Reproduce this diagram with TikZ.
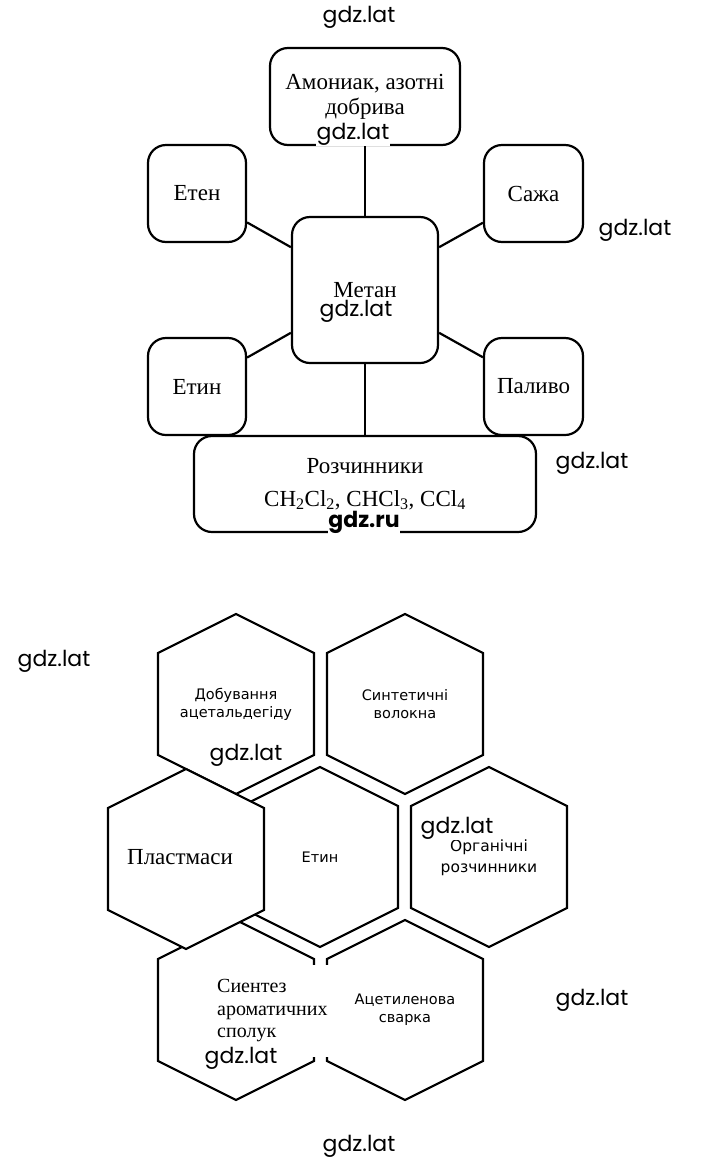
\documentclass[tikz,border=0pt]{standalone}
\usepackage{fontspec}
\setmainfont{Liberation Serif}
\newfontfamily\hexfont{DejaVu Sans}
\newfontfamily\wmfont{Poppins}
\usepackage{tikz}

\begin{document}
\begin{tikzpicture}[x=1pt, y=-1pt,
	topbox/.style={draw, line width=2.2pt, rounded corners=18pt, align=center, inner sep=0pt, font=\fontsize{23}{25}\selectfont},
	link/.style={line width=2.2pt},
	hexlabel/.style={align=center, font=\hexfont\fontsize{14.5}{18}\selectfont},
	wmark/.style={fill=white, inner sep=0.5pt, font=\wmfont\fontsize{22}{24}\selectfont},
	hexcell/.pic={\filldraw[fill=white, line width=2.2pt] (0,-90) -- (78,-51) -- (78,51) -- (0,90) -- (-78,51) -- (-78,-51) -- cycle;}]
				\useasboundingbox (0,0) rectangle (720,1160);
				% methane scheme
				\node[topbox, minimum width=190pt, minimum height=97pt] (amon) at (365,96.5) {Амониак, азотні\\добрива};
				\node[topbox, minimum width=98pt, minimum height=97pt] (eten) at (197,193.5) {Етен};
				\node[topbox, minimum width=99pt, minimum height=97pt] (saza) at (533.5,193.5) {Сажа};
				\node[topbox, minimum width=146pt, minimum height=146pt] (metan) at (365,290) {Метан};
				\node[topbox, minimum width=98pt, minimum height=97pt] (etyn) at (197,386.5) {Етин};
				\node[topbox, minimum width=99pt, minimum height=97pt] (palyvo) at (533.5,386.5) {Паливо};
				\node[topbox, minimum width=342pt, minimum height=96pt] (rozch) at (365,484) {Розчинники\\[8pt]CH\textsubscript{2}Cl\textsubscript{2}, CHCl\textsubscript{3}, CCl\textsubscript{4}};
				\draw[link] (amon.south) -- (metan.north);
				\draw[link] (eten.-30) -- (metan.150);
				\draw[link] (saza.210) -- (metan.30);
				\draw[link] (etyn.30) -- (metan.210);
				\draw[link] (palyvo.150) -- (metan.-30);
				\draw[link] (metan.south) -- (rozch.north);
				% ethyne honeycomb
				\pic at (236,704) {hexcell};
				\pic at (405,704) {hexcell};
				\pic at (320,857) {hexcell};
				\pic at (489,857) {hexcell};
				\pic at (236,1010) {hexcell};
				\pic at (405,1010) {hexcell};
				\pic at (186,859) {hexcell};
				\node[hexlabel] (dobuv) at (236,704) {Добування\\ацетальдегіду};
				\node[hexlabel] (synt) at (405,704) {Синтетичні\\волокна};
				\node[hexlabel] (etin) at (320,857) {Етин};
				\node[hexlabel, font=\hexfont\fontsize{15.5}{21}\selectfont] (orhan) at (489,858) {Органічні\\розчинники};
				\node[hexlabel] (acet) at (405,1010) {Ацетиленова\\сварка};
				\node[font=\fontsize{23}{25}\selectfont] (plast) at (180,857) {Пластмаси};
				\node[fill=white, align=left, anchor=west, text width=108pt, minimum height=92pt, inner xsep=7pt, inner ysep=0pt, font=\fontsize{20}{22.5}\selectfont] (sint) at (210,1011) {Сиентез\\ароматичних\\сполук};
				% watermarks
				\node[wmark] (wm1) at (359,17) {gdz.lat};
				\node[wmark] (wm2) at (353,134) {gdz.lat};
				\node[wmark] (wm3) at (635,230) {gdz.lat};
				\node[wmark] (wm4) at (356,311) {gdz.lat};
				\node[wmark] (wm5) at (592,463) {gdz.lat};
				\node[wmark, font=\wmfont\bfseries\fontsize{22}{24}\selectfont] (wm6) at (364,522) {gdz.ru};
				\node[wmark] (wm7) at (54,661) {gdz.lat};
				\node[wmark] (wm8) at (246,755) {gdz.lat};
				\node[wmark] (wm9) at (457,828) {gdz.lat};
				\node[wmark] (wm10) at (592,1000) {gdz.lat};
				\node[wmark] (wm11) at (241,1058) {gdz.lat};
				\node[wmark] (wm12) at (359,1146) {gdz.lat};
				\end{tikzpicture}
\end{document}
